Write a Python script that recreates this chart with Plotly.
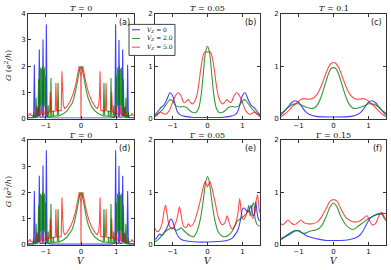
import plotly.graph_objects as go

W, H = 391, 270

# ---------------- data ----------------
# Panel (a)/(d): T = 0, Gamma = 0
blue_a_V = [-1.5, -1.34, -1.32, -1.30, -1.25, -1.22, -1.20, -1.18, -1.16, -1.095, -1.075, -1.055, -1.0, -0.98, -0.96, -0.85, 0.0,
            0.85, 0.96, 0.98, 1.0, 1.055, 1.075, 1.095, 1.16, 1.18, 1.20, 1.22, 1.25, 1.30, 1.32, 1.34, 1.5]
blue_a_G = [0.03, 0.03, 2.05, 0.05, 0.1, 0.45, 0.08, 2.63, 0.05, 0.05, 3.02, 0.05, 0.05, 3.6, 0.05, 0.02, 0.02,
            0.02, 0.05, 3.6, 0.05, 0.05, 3.0, 0.05, 0.05, 2.63, 0.08, 0.45, 0.1, 0.05, 2.05, 0.03, 0.03]

green_a_V = [-1.5, -1.36, -1.34, -1.32, -1.29, -1.27, -1.25, -1.22, -1.20, -1.18, -1.165, -1.15, -1.135, -1.12, -1.105, -1.09,
             -1.075, -1.06, -1.045, -1.03, -1.015, -1.0, -0.985, -0.95, -0.93, -0.91, -0.87, -0.85, -0.83, -0.79, -0.78, -0.77,
             -0.67, -0.65, -0.63, -0.5, -0.4, -0.3, -0.25, -0.2, -0.15, -0.1, -0.05, 0.0,
             0.05, 0.1, 0.15, 0.2, 0.25, 0.3, 0.4, 0.5, 0.63, 0.65, 0.67, 0.77, 0.78, 0.79, 0.83, 0.85, 0.87, 0.91, 0.93, 0.95,
             0.985, 1.0, 1.015, 1.03, 1.045, 1.06, 1.075, 1.09, 1.105, 1.12, 1.135, 1.15, 1.165, 1.18, 1.20, 1.22, 1.25, 1.27,
             1.29, 1.32, 1.34, 1.36, 1.5]
green_a_G = [0.02, 0.03, 0.25, 0.03, 0.03, 0.8, 0.04, 0.05, 1.5, 0.1, 0.3, 1.95, 0.5, 1.9, 0.5, 2.0,
             0.6, 1.85, 0.5, 1.95, 0.4, 1.6, 0.1, 0.06, 0.5, 0.06, 0.06, 1.55, 0.07, 0.08, 0.3, 0.09,
             0.1, 1.35, 0.1, 0.18, 0.28, 0.45, 0.58, 0.78, 1.05, 1.4, 1.8, 2.0,
             1.8, 1.4, 1.05, 0.78, 0.58, 0.45, 0.28, 0.18, 0.1, 1.35, 0.1, 0.09, 0.3, 0.08, 0.07, 1.55, 0.06, 0.06, 0.5, 0.06,
             0.1, 1.6, 0.4, 1.95, 0.5, 1.85, 0.6, 2.0, 0.5, 1.9, 0.5, 1.95, 0.3, 0.1, 1.5, 0.05, 0.04, 0.8,
             0.03, 0.03, 0.25, 0.03, 0.02]

red_a_V = [-1.5, -1.46, -1.44, -1.42, -1.35, -1.27, -1.25, -1.23, -1.14, -1.12, -1.10, -1.02, -1.0, -0.98, -0.89, -0.87, -0.85,
           -0.73, -0.71, -0.69, -0.56, -0.54, -0.52, -0.5, -0.46, -0.4, -0.3, -0.22, -0.15, -0.1, -0.07, -0.05, -0.03, -0.006, 0.0,
           0.006, 0.03, 0.05, 0.07, 0.1, 0.15, 0.22, 0.3, 0.4, 0.46, 0.5, 0.52, 0.54, 0.56, 0.69, 0.71, 0.73,
           0.85, 0.87, 0.89, 0.98, 1.0, 1.02, 1.10, 1.12, 1.14, 1.23, 1.25, 1.27, 1.35, 1.42, 1.44, 1.46, 1.5]
red_a_G = [0.1, 0.15, 0.2, 0.12, 0.1, 0.12, 0.45, 0.12, 0.15, 0.5, 0.15, 0.18, 0.45, 0.2, 0.25, 1.0, 0.25,
           0.28, 1.35, 0.3, 0.3, 1.8, 0.8, 0.5, 0.38, 0.45, 0.68, 0.95, 1.3, 1.62, 1.85, 2.0, 1.9, 1.6, 0.0,
           1.6, 1.9, 2.0, 1.85, 1.62, 1.3, 0.95, 0.68, 0.45, 0.38, 0.5, 0.8, 1.8, 0.3, 0.3, 1.35, 0.28,
           0.25, 1.0, 0.25, 0.2, 0.45, 0.18, 0.15, 0.5, 0.15, 0.12, 0.45, 0.12, 0.1, 0.12, 0.2, 0.15, 0.1]

# Panel (b): T = 0.05
blue_b_V = [-1.5, -1.4, -1.33, -1.25, -1.17, -1.07, -1.0, -0.93, -0.86, -0.78, -0.65, -0.4, 0.0, 0.4, 0.65, 0.78, 0.86, 0.93, 1.0, 1.07, 1.17, 1.25, 1.33, 1.4, 1.5]
blue_b_G = [0.07, 0.15, 0.21, 0.25, 0.35, 0.49, 0.44, 0.28, 0.13, 0.07, 0.04, 0.02, 0.02, 0.02, 0.04, 0.07, 0.13, 0.28, 0.44, 0.49, 0.35, 0.25, 0.21, 0.15, 0.07]
green_b_V = [-1.5, -1.4, -1.3, -1.2, -1.1, -1.04, -0.97, -0.9, -0.8, -0.7, -0.6, -0.5, -0.4, -0.32, -0.25, -0.18, -0.12, -0.06, 0.0,
             0.06, 0.12, 0.18, 0.25, 0.32, 0.4, 0.5, 0.6, 0.7, 0.8, 0.9, 0.97, 1.04, 1.1, 1.2, 1.3, 1.4, 1.5]
green_b_G = [0.05, 0.1, 0.16, 0.25, 0.34, 0.36, 0.31, 0.24, 0.22, 0.23, 0.21, 0.15, 0.11, 0.12, 0.2, 0.45, 0.85, 1.25, 1.38,
             1.25, 0.85, 0.45, 0.2, 0.12, 0.11, 0.15, 0.21, 0.23, 0.22, 0.24, 0.31, 0.36, 0.34, 0.25, 0.16, 0.1, 0.05]
red_b_V = [-1.5, -1.42, -1.35, -1.27, -1.2, -1.1, -1.0, -0.9, -0.83, -0.75, -0.67, -0.6, -0.55, -0.48, -0.42, -0.32, -0.25, -0.18, -0.1, -0.04, 0.0,
           0.04, 0.1, 0.18, 0.25, 0.32, 0.42, 0.48, 0.55, 0.6, 0.67, 0.75, 0.83, 0.9, 1.0, 1.1, 1.2, 1.27, 1.35, 1.42, 1.5]
red_b_G = [0.03, 0.08, 0.12, 0.1, 0.08, 0.14, 0.3, 0.45, 0.49, 0.42, 0.3, 0.33, 0.36, 0.3, 0.28, 0.4, 0.65, 1.0, 1.25, 1.28, 1.26,
           1.28, 1.25, 1.0, 0.65, 0.4, 0.28, 0.3, 0.36, 0.33, 0.3, 0.42, 0.49, 0.45, 0.3, 0.14, 0.08, 0.1, 0.12, 0.08, 0.03]

# Panel (c): T = 0.1
blue_c_V = [-1.5, -1.4, -1.3, -1.2, -1.1, -1.0, -0.9, -0.8, -0.7, -0.5, 0.0, 0.5, 0.7, 0.8, 0.9, 1.0, 1.1, 1.2, 1.3, 1.4, 1.5]
blue_c_G = [0.07, 0.14, 0.22, 0.3, 0.34, 0.31, 0.22, 0.13, 0.08, 0.04, 0.03, 0.04, 0.08, 0.13, 0.22, 0.31, 0.34, 0.3, 0.22, 0.14, 0.07]
green_c_V = [-1.5, -1.4, -1.3, -1.2, -1.1, -1.0, -0.9, -0.8, -0.65, -0.55, -0.45, -0.35, -0.25, -0.15, -0.07, 0.0,
             0.07, 0.15, 0.25, 0.35, 0.45, 0.55, 0.65, 0.8, 0.9, 1.0, 1.1, 1.2, 1.3, 1.4, 1.5]
green_c_G = [0.1, 0.15, 0.21, 0.26, 0.28, 0.28, 0.25, 0.22, 0.19, 0.2, 0.27, 0.42, 0.63, 0.84, 0.95, 0.97,
             0.95, 0.84, 0.63, 0.42, 0.27, 0.2, 0.19, 0.22, 0.25, 0.28, 0.28, 0.26, 0.21, 0.15, 0.1]
red_c_V = [-1.5, -1.4, -1.3, -1.2, -1.1, -1.0, -0.9, -0.85, -0.75, -0.65, -0.55, -0.45, -0.35, -0.25, -0.15, -0.07, 0.0,
           0.07, 0.15, 0.25, 0.35, 0.45, 0.55, 0.65, 0.75, 0.85, 0.9, 1.0, 1.1, 1.2, 1.3, 1.4, 1.5]
red_c_G = [0.04, 0.08, 0.14, 0.21, 0.27, 0.33, 0.37, 0.38, 0.37, 0.37, 0.4, 0.48, 0.62, 0.8, 0.97, 1.05, 1.07,
           1.05, 0.97, 0.8, 0.62, 0.48, 0.4, 0.37, 0.37, 0.38, 0.37, 0.33, 0.27, 0.21, 0.14, 0.08, 0.04]

# Panel (e): Gamma = 0.05
blue_e_V = [-1.5, -1.45, -1.4, -1.36, -1.3, -1.25, -1.2, -1.12, -1.05, -1.0, -0.93, -0.85, -0.75, -0.6, -0.3, 0.0, 0.3, 0.55, 0.7, 0.8,
            0.88, 0.95, 1.0, 1.05, 1.1, 1.15, 1.2, 1.25, 1.3, 1.35, 1.38, 1.42, 1.46, 1.5]
blue_e_G = [0.1, 0.13, 0.18, 0.2, 0.17, 0.22, 0.27, 0.38, 0.49, 0.45, 0.3, 0.17, 0.1, 0.07, 0.05, 0.05, 0.06, 0.08, 0.12, 0.2,
            0.3, 0.5, 0.68, 0.7, 0.66, 0.62, 0.68, 0.75, 0.55, 0.6, 0.82, 0.6, 0.48, 0.45]
green_e_V = [-1.5, -1.4, -1.3, -1.2, -1.1, -1.0, -0.9, -0.8, -0.75, -0.68, -0.6, -0.5, -0.4, -0.3, -0.2, -0.12, -0.05, 0.0,
             0.05, 0.12, 0.2, 0.3, 0.4, 0.5, 0.6, 0.7, 0.78, 0.85, 0.95, 1.05, 1.12, 1.18, 1.22, 1.28, 1.32, 1.36, 1.42, 1.5]
green_e_G = [0.05, 0.1, 0.18, 0.25, 0.3, 0.32, 0.27, 0.3, 0.32, 0.27, 0.22, 0.17, 0.15, 0.25, 0.5, 0.85, 1.2, 1.3,
             1.2, 0.85, 0.5, 0.25, 0.17, 0.15, 0.18, 0.25, 0.35, 0.45, 0.5, 0.55, 0.6, 0.75, 0.55, 0.75, 0.8, 0.5, 0.38, 0.35]
red_e_V = [-1.5, -1.45, -1.38, -1.3, -1.24, -1.2, -1.16, -1.1, -1.02, -0.95, -0.87, -0.8, -0.75, -0.68, -0.6, -0.55, -0.5, -0.42,
           -0.32, -0.22, -0.12, -0.07, -0.03, 0.0, 0.03, 0.07, 0.12, 0.22, 0.32, 0.42, 0.5, 0.56, 0.62, 0.7, 0.8, 0.87, 0.92,
           0.97, 1.02, 1.08, 1.15, 1.22, 1.3, 1.38, 1.43, 1.47, 1.5]
red_e_G = [0.32, 0.25, 0.27, 0.4, 0.65, 0.75, 0.6, 0.38, 0.3, 0.35, 0.5, 0.72, 0.55, 0.35, 0.33, 0.4, 0.35, 0.38,
           0.55, 0.8, 1.1, 1.2, 1.15, 1.1, 1.15, 1.2, 1.1, 0.8, 0.5, 0.38, 0.42, 0.55, 0.42, 0.3, 0.4, 0.6, 0.88,
           0.6, 0.48, 0.52, 0.65, 0.6, 0.5, 0.8, 0.95, 0.7, 0.6]

# Panel (f): Gamma = 0.15
blue_f_V = [-1.5, -1.4, -1.3, -1.2, -1.1, -1.0, -0.9, -0.8, -0.6, -0.4, -0.2, 0.0, 0.2, 0.4, 0.6, 0.75, 0.85, 0.95, 1.05, 1.15, 1.3, 1.5]
blue_f_G = [0.1, 0.14, 0.18, 0.22, 0.26, 0.27, 0.23, 0.18, 0.13, 0.1, 0.08, 0.08, 0.08, 0.09, 0.12, 0.18, 0.27, 0.4, 0.5, 0.55, 0.58, 0.6]
green_f_V = [-1.5, -1.4, -1.3, -1.2, -1.1, -1.0, -0.9, -0.8, -0.7, -0.6, -0.5, -0.35, -0.2, -0.1, 0.0, 0.1, 0.2, 0.35, 0.5, 0.6,
             0.7, 0.8, 0.9, 1.0, 1.1, 1.2, 1.3, 1.38, 1.45, 1.5]
green_f_G = [0.12, 0.15, 0.2, 0.24, 0.27, 0.26, 0.22, 0.22, 0.25, 0.27, 0.28, 0.35, 0.55, 0.72, 0.79, 0.72, 0.55, 0.38, 0.3, 0.3,
             0.35, 0.4, 0.45, 0.5, 0.53, 0.57, 0.6, 0.58, 0.5, 0.48]
red_f_V = [-1.5, -1.45, -1.38, -1.3, -1.22, -1.12, -1.02, -0.93, -0.85, -0.75, -0.6, -0.45, -0.35, -0.2, -0.1, 0.0, 0.1, 0.2, 0.35,
           0.5, 0.6, 0.75, 0.85, 0.95, 1.02, 1.1, 1.2, 1.3, 1.38, 1.44, 1.5]
red_f_G = [0.4, 0.38, 0.42, 0.47, 0.42, 0.38, 0.42, 0.47, 0.42, 0.4, 0.4, 0.44, 0.52, 0.7, 0.83, 0.86, 0.83, 0.7, 0.52,
           0.45, 0.43, 0.45, 0.5, 0.55, 0.48, 0.38, 0.4, 0.55, 0.62, 0.55, 0.45]

titles = ["<i>T</i> = 0", "<i>T</i> = 0.05", "<i>T</i> = 0.1", "Γ = 0", "Γ = 0.05", "Γ = 0.15"]
panel_tags = ["(a)", "(b)", "(c)", "(d)", "(e)", "(f)"]
legend_labels = ["<i>V<sub>Z</sub></i> = 0", "<i>V<sub>Z</sub></i> = 2.0", "<i>V<sub>Z</sub></i> = 5.0"]
x_ticks = [-1, 0, 1]
x_tick_text = ["−1", "0", "1"]
y_max = [4, 2, 2, 4, 2, 2]

# ---------------- styling ----------------
COLORS = ["rgba(0,0,255,0.75)", "rgba(0,128,0,0.8)", "rgba(255,0,0,0.7)"]
SERIF = "DejaVu Serif"
SANS = "DejaVu Sans"
AX = "#333333"

panels = [
    [(blue_a_V, blue_a_G), (green_a_V, green_a_G), (red_a_V, red_a_G)],
    [(blue_b_V, blue_b_G), (green_b_V, green_b_G), (red_b_V, red_b_G)],
    [(blue_c_V, blue_c_G), (green_c_V, green_c_G), (red_c_V, red_c_G)],
    [(blue_a_V, blue_a_G), (green_a_V, green_a_G), (red_a_V, red_a_G)],
    [(blue_e_V, blue_e_G), (green_e_V, green_e_G), (red_e_V, red_e_G)],
    [(blue_f_V, blue_f_G), (green_f_V, green_f_G), (red_f_V, red_f_G)],
]
smooth = [False, True, True, False, True, True]

col_px = [(28, 134), (155, 260), (281, 386)]
row_px = [(10, 118), (140, 248)]

fig = go.Figure()
layout = dict(width=W, height=H, margin=dict(l=0, r=0, t=0, b=0),
              paper_bgcolor="white", plot_bgcolor="white", showlegend=False)
annotations = []
shapes = []

for i in range(6):
    r, c = divmod(i, 3)
    xs = "x" if i == 0 else f"x{i+1}"
    ys = "y" if i == 0 else f"y{i+1}"
    xk = "xaxis" if i == 0 else f"xaxis{i+1}"
    yk = "yaxis" if i == 0 else f"yaxis{i+1}"
    x0, x1 = col_px[c]
    y0, y1 = row_px[r]
    for k, (vv, gg) in enumerate(panels[i]):
        fig.add_trace(go.Scatter(
            x=vv, y=gg, mode="lines", xaxis=xs, yaxis=ys,
            line=dict(color=COLORS[k], width=1.1,
                      shape="spline" if smooth[i] else "linear",
                      smoothing=0.8 if smooth[i] else None),
            hoverinfo="skip", showlegend=False))
    axcommon = dict(showgrid=False, zeroline=False, showline=True, linecolor=AX, linewidth=1,
                    mirror="ticks", ticks="inside", ticklen=3, tickcolor=AX, tickwidth=1,
                    tickfont=dict(family=SANS, size=7, color="#111"))
    layout[xk] = dict(axcommon, domain=[x0 / W, x1 / W], range=[-1.5, 1.5], anchor=ys,
                      tickvals=x_ticks, ticktext=x_tick_text, ticklabelstandoff=0)
    layout[yk] = dict(axcommon, domain=[1 - y1 / H, 1 - y0 / H], range=[0, y_max[i]], anchor=xs,
                      tickvals=list(range(0, y_max[i] + 1)))
    # title
    annotations.append(dict(text=titles[i], x=(x0 + x1) / 2 / W, y=1 - (y0 - 5) / H,
                            xref="paper", yref="paper", xanchor="center", yanchor="middle",
                            showarrow=False, font=dict(family=SERIF, size=8, color="#111")))
    # panel tag
    annotations.append(dict(text=panel_tags[i], x=(x1 - 2) / W, y=1 - (y0 + 2) / H,
                            xref="paper", yref="paper", xanchor="right", yanchor="top",
                            showarrow=False, font=dict(family=SANS, size=8, color="#111")))
    if r == 1:
        annotations.append(dict(text="<i>V</i>", x=(x0 + x1) / 2 / W, y=1 - 258 / H,
                                xref="paper", yref="paper", xanchor="center", yanchor="top",
                                showarrow=False, font=dict(family=SERIF, size=9, color="#111")))
    if c == 0:
        annotations.append(dict(text="<i>G</i> (<i>e</i><sup>2</sup>/<i>h</i>)", x=8 / W,
                                y=1 - (y0 + y1) / 2 / H, xref="paper", yref="paper",
                                xanchor="center", yanchor="middle", textangle=-90,
                                showarrow=False, font=dict(family=SERIF, size=8, color="#111")))

# legend box (drawn manually)
lx0, lx1, ly0, ly1 = 129, 175, 21, 53
shapes.append(dict(type="rect", xref="paper", yref="paper", x0=lx0 / W, x1=lx1 / W,
                   y0=1 - ly1 / H, y1=1 - ly0 / H, line=dict(color="#444", width=1),
                   fillcolor="white", layer="above"))
for k in range(3):
    yy = 26.5 + k * 9
    shapes.append(dict(type="line", xref="paper", yref="paper", x0=132 / W, x1=140 / W,
                       y0=1 - yy / H, y1=1 - yy / H, line=dict(color=COLORS[k], width=1.1), layer="above"))
    annotations.append(dict(text=legend_labels[k], x=145 / W, y=1 - yy / H, xref="paper", yref="paper",
                            xanchor="left", yanchor="middle", showarrow=False,
                            font=dict(family=SERIF, size=6, color="#111")))

layout["annotations"] = annotations
layout["shapes"] = shapes
fig.update_layout(**layout)
fig.write_html("out.html", config={"displayModeBar": False},
               post_script="document.body.style.margin='0';document.body.style.overflow='hidden';")
